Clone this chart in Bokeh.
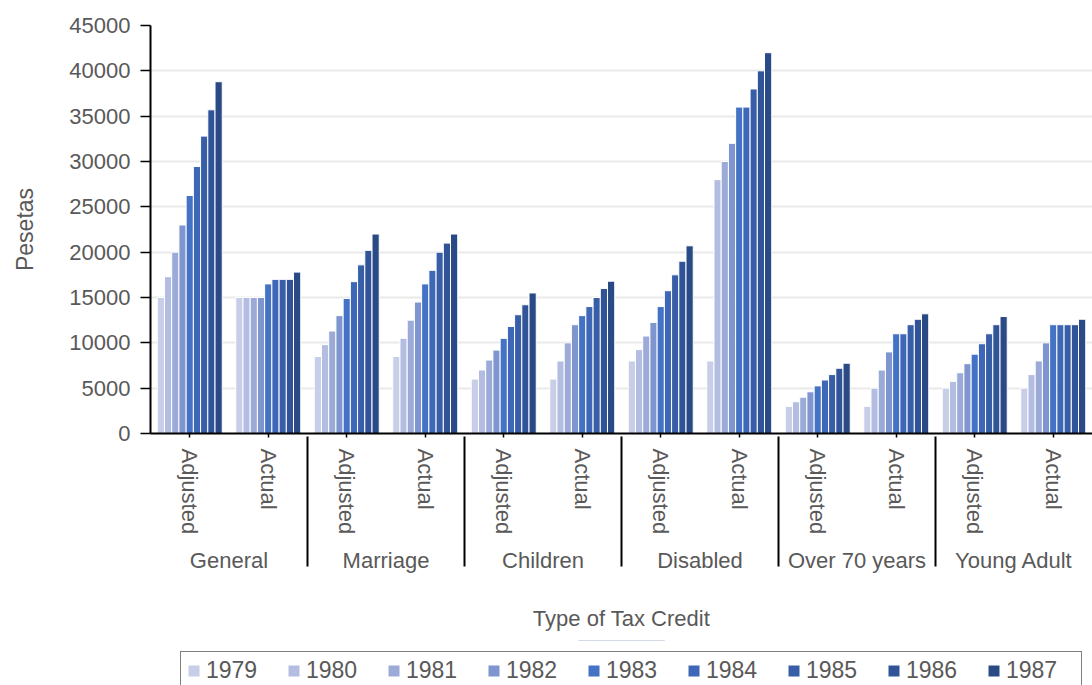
from bokeh.plotting import figure
from bokeh.layouts import column
from bokeh.models import (ColumnDataSource, FactorRange, Range1d, Legend, LegendItem,
                          NumeralTickFormatter, FixedTicker)
from bokeh.transform import dodge
from bokeh.embed import file_html
from bokeh.resources import INLINE

# ---------------- data ----------------
credit_types = ["General", "Marriage", "Children", "Disabled", "Over 70 years", "Young Adult"]
measures = ["Adjusted", "Actual"]
years = ["1979", "1980", "1981", "1982", "1983", "1984", "1985", "1986", "1987"]

general_adjusted = [15000, 17300, 20000, 23000, 26250, 29450, 32800, 35700, 38800]
general_actual = [15000, 15000, 15000, 15000, 16500, 17000, 17000, 17000, 17800]
marriage_adjusted = [8500, 9800, 11300, 13000, 14900, 16750, 18600, 20200, 22000]
marriage_actual = [8500, 10500, 12500, 14500, 16500, 18000, 20000, 21000, 22000]
children_adjusted = [6000, 7000, 8100, 9200, 10500, 11800, 13100, 14200, 15500]
children_actual = [6000, 8000, 10000, 12000, 13000, 14000, 15000, 16000, 16800]
disabled_adjusted = [8000, 9250, 10750, 12250, 14000, 15750, 17500, 19000, 20700]
disabled_actual = [8000, 28000, 30000, 32000, 36000, 36000, 38000, 40000, 42000]
over70_adjusted = [3000, 3500, 4000, 4600, 5250, 5900, 6500, 7200, 7750]
over70_actual = [3000, 5000, 7000, 9000, 11000, 11000, 12000, 12600, 13200]
young_adjusted = [5000, 5750, 6700, 7700, 8750, 9900, 11000, 12000, 12900]
young_actual = [5000, 6500, 8000, 10000, 12000, 12000, 12000, 12000, 12600]

year_colors = ["#c8cee7", "#b3bde2", "#9caad8", "#7f95d0", "#4472c4",
               "#3e68b7", "#375ea6", "#305497", "#2a4a85"]

series = [general_adjusted, general_actual, marriage_adjusted, marriage_actual,
          children_adjusted, children_actual, disabled_adjusted, disabled_actual,
          over70_adjusted, over70_actual, young_adjusted, young_actual]

# ---------------- source ----------------
factors = [(t, m) for t in credit_types for m in measures]
data = {"x": factors}
for i, yr in enumerate(years):
    data["y" + yr] = [s[i] for s in series]
source = ColumnDataSource(data)

FONT = "Liberation Sans"
GREY = "#595959"

p = figure(
    x_range=FactorRange(*factors, range_padding=0, group_padding=0, factor_padding=0),
    y_range=Range1d(0, 45000),
    width=1092, height=640,
    output_backend="svg", toolbar_location=None,
    min_border_left=150, min_border_right=0, min_border_top=25, min_border_bottom=207,
    outline_line_color=None,
)

bw = 0.092
for i, yr in enumerate(years):
    p.vbar(x=dodge("x", (i - 4) * bw, range=p.x_range), top="y" + yr, width=bw,
           source=source, fill_color=year_colors[i], line_color="white", line_width=1)

# grid
p.xgrid.grid_line_color = None
p.ygrid.grid_line_color = "#e9e9e9"
p.ygrid.grid_line_width = 2

# y axis
p.yaxis.ticker = FixedTicker(ticks=list(range(0, 45001, 5000)))
p.yaxis.formatter = NumeralTickFormatter(format="0")
p.yaxis.axis_label = "Pesetas"
p.yaxis.axis_label_text_font = FONT
p.yaxis.axis_label_text_font_size = "23px"
p.yaxis.axis_label_text_font_style = "normal"
p.yaxis.axis_label_text_color = GREY
p.yaxis.axis_label_standoff = 28
p.yaxis.major_label_text_font = FONT
p.yaxis.major_label_text_font_size = "22px"
p.yaxis.major_label_text_color = GREY
p.yaxis.major_label_standoff = 10
p.yaxis.major_tick_out = 10
p.yaxis.major_tick_in = 0
p.yaxis.minor_tick_line_color = None
p.yaxis.axis_line_color = "black"
p.yaxis.axis_line_width = 2
p.yaxis.major_tick_line_color = "black"
p.yaxis.major_tick_line_width = 1.5

# x axis
xa = p.xaxis[0]
xa.axis_label = "Type of Tax Credit"
xa.axis_label_text_font = FONT
xa.axis_label_text_font_size = "22px"
xa.axis_label_text_font_style = "normal"
xa.axis_label_text_color = GREY
xa.axis_label_standoff = 30
xa.major_label_orientation = "vertical"
xa.major_label_text_font = FONT
xa.major_label_text_font_size = "22px"
xa.major_label_text_color = GREY
xa.major_label_standoff = 11
xa.group_text_font = FONT
xa.group_text_font_size = "22px"
xa.group_text_font_style = "normal"
xa.group_text_color = GREY
xa.major_tick_out = 4
xa.major_tick_in = 0
xa.major_tick_line_color = "black"
xa.major_tick_line_width = 1.5
xa.axis_line_color = "black"
xa.axis_line_width = 2
xa.separator_line_color = "black"
xa.separator_line_width = 2

# ---------------- legend strip ----------------
lp = figure(width=1092, height=45, x_range=Range1d(0, 1), y_range=Range1d(0, 1),
            output_backend="svg", toolbar_location=None,
            x_axis_location=None, y_axis_location=None,
            min_border_left=0, min_border_right=0, min_border_top=0, min_border_bottom=0,
            outline_line_color=None)
lp.grid.visible = False
legend_renderers = []
for i, yr in enumerate(years):
    # zero-height proxies (far outside the strip's range) that only feed the legend swatches
    r = lp.vbar(x=0.5, top="y" + yr, bottom="y" + yr, width=bw, source=source,
                fill_color=year_colors[i], line_color="white", line_width=1)
    legend_renderers.append(r)

items = [LegendItem(label=yr, renderers=[r]) for yr, r in zip(years, legend_renderers)]
legend = Legend(items=items, orientation="horizontal", location=(30, -5),
                glyph_width=15, glyph_height=15, label_standoff=5, spacing=10,
                label_width=70, padding=5, margin=0,
                border_line_color="black", border_line_width=1.5,
                label_text_font=FONT, label_text_font_size="23px",
                label_text_color=GREY, background_fill_alpha=1)
lp.add_layout(legend)

layout = column(p, lp, spacing=0)
open("out.html", "w").write(file_html(layout, INLINE))
